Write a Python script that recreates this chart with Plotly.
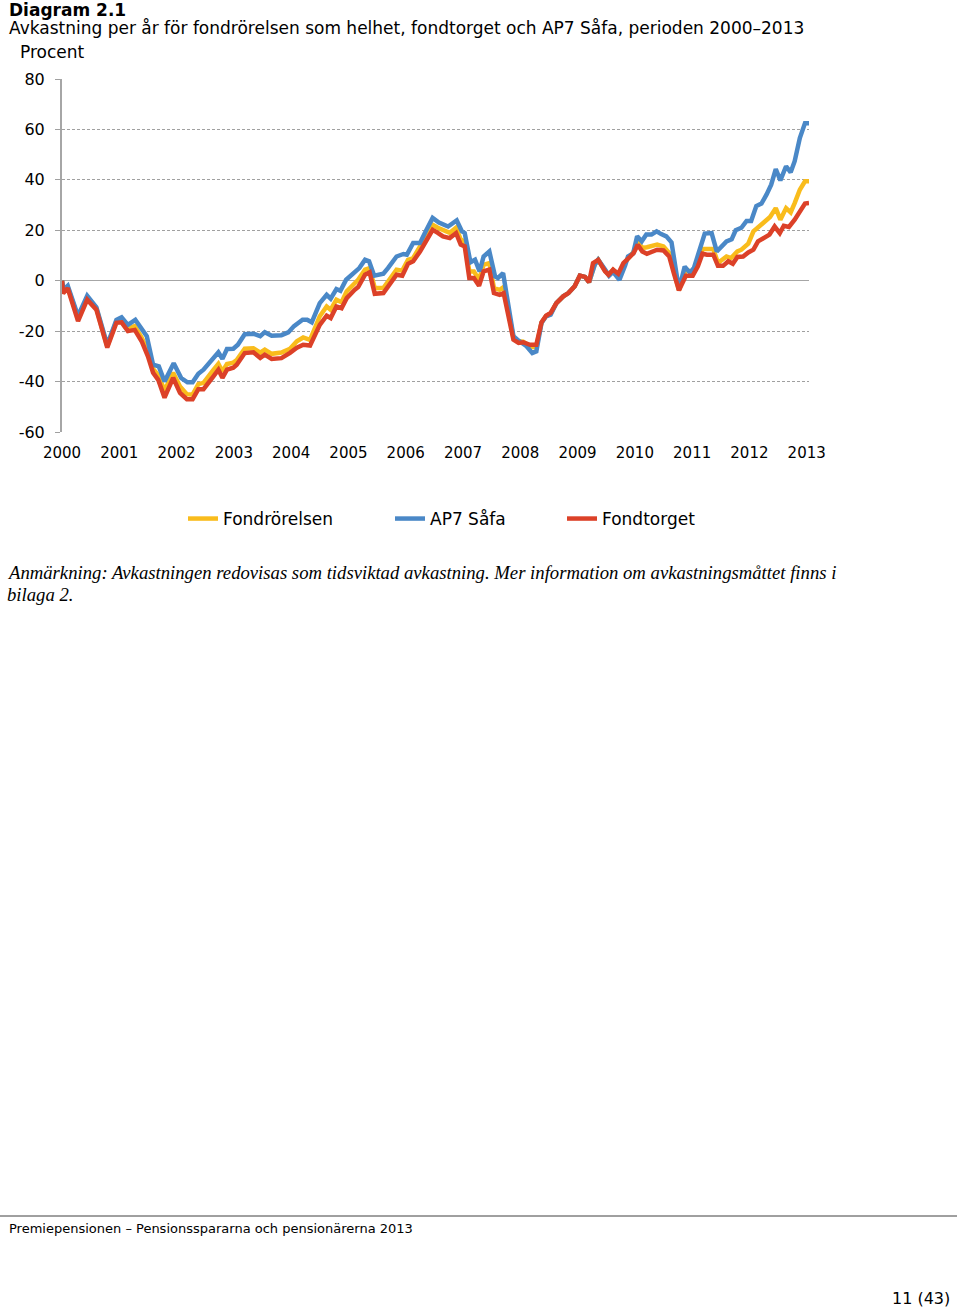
import plotly.graph_objects as go

# ---------------- data ----------------
series_names = ["Fondrörelsen", "AP7 Såfa", "Fondtorget"]

fondrorelsen_x = [2000.00, 2000.02, 2000.10, 2000.28, 2000.44, 2000.60, 2000.79, 2000.95, 2001.04, 2001.15,
                  2001.27, 2001.39, 2001.50, 2001.59, 2001.68, 2001.79, 2001.94, 2002.06, 2002.18, 2002.28,
                  2002.38, 2002.47, 2002.64, 2002.73, 2002.80, 2002.88, 2002.99, 2003.05, 2003.19, 2003.34,
                  2003.46, 2003.54, 2003.66, 2003.83, 2003.98, 2004.10, 2004.21, 2004.33, 2004.50, 2004.62,
                  2004.69, 2004.79, 2004.88, 2004.97, 2005.11, 2005.17, 2005.29, 2005.37, 2005.46, 2005.61,
                  2005.84, 2005.94, 2006.04, 2006.13, 2006.25, 2006.34, 2006.47, 2006.56, 2006.65, 2006.77,
                  2006.88, 2006.96, 2007.03, 2007.11, 2007.19, 2007.28, 2007.36, 2007.46, 2007.54, 2007.64,
                  2007.71, 2007.88, 2007.97, 2008.05, 2008.17, 2008.28, 2008.37, 2008.45, 2008.53, 2008.63,
                  2008.75, 2008.84, 2008.95, 2009.04, 2009.13, 2009.20, 2009.30, 2009.36, 2009.48, 2009.54,
                  2009.62, 2009.71, 2009.80, 2009.92, 2009.98, 2010.05, 2010.13, 2010.21, 2010.30, 2010.39,
                  2010.50, 2010.60, 2010.68, 2010.77, 2010.89, 2011.01, 2011.10, 2011.18, 2011.37, 2011.45,
                  2011.60, 2011.68, 2011.79, 2011.86, 2011.98, 2012.07, 2012.24, 2012.36, 2012.46, 2012.54,
                  2012.64, 2012.72, 2012.79, 2012.88, 2012.97, 2013.04]
fondrorelsen_y = [0, -4.5, -2.5, -15, -7, -11, -26, -16, -15.5, -19,
                  -18, -22.5, -28, -35, -37.5, -43.5, -36.5, -42, -45, -45.2,
                  -41, -40.5, -35.5, -33, -36, -33, -32.5, -31.5, -27, -26.8,
                  -28.5, -27.3, -29, -28.5, -27, -24, -22.5, -23.5, -14.1, -10.2,
                  -11.5, -7.5, -8.5, -4.2, -1, 0.4, 4.4, 5, -2.9, -2.9,
                  4.4, 4, 8.3, 9, 13.6, 16.9, 22.2, 21, 20, 19,
                  21, 16.3, 15.5, 3.7, 3.7, 0.4, 6.3, 7, -2.9, -3.6,
                  -2.5, -22.5, -24, -24.2, -26, -26.5, -16.6, -14, -13, -8.9,
                  -6.2, -4.9, -2.2, 2, 1.5, -0.6, 6.5, 8.3, 4, 2.3,
                  4.2, 2, 6.5, 9.8, 11.5, 15.5, 13, 13.3, 13.8, 14.3,
                  13.6, 11, 4, -3.8, 4.4, 3.3, 7, 12.6, 12.6, 7,
                  9.6, 9, 11.6, 12.3, 14.7, 19.6, 22.9, 25.3, 28.8, 24.2,
                  28.8, 27.1, 30.8, 36.1, 39.4, 39.4]

ap7_x = [2000.00, 2000.03, 2000.10, 2000.28, 2000.44, 2000.60, 2000.79, 2000.95, 2001.04, 2001.15,
         2001.28, 2001.39, 2001.48, 2001.59, 2001.69, 2001.79, 2001.95, 2002.08, 2002.19, 2002.28,
         2002.38, 2002.47, 2002.64, 2002.73, 2002.80, 2002.88, 2002.99, 2003.07, 2003.19, 2003.34,
         2003.46, 2003.54, 2003.66, 2003.83, 2003.95, 2004.05, 2004.20, 2004.28, 2004.36, 2004.50,
         2004.62, 2004.69, 2004.79, 2004.86, 2004.96, 2005.11, 2005.19, 2005.29, 2005.36, 2005.45,
         2005.61, 2005.69, 2005.84, 2005.96, 2006.02, 2006.13, 2006.25, 2006.35, 2006.47, 2006.58,
         2006.65, 2006.74, 2006.89, 2006.98, 2007.03, 2007.13, 2007.21, 2007.29, 2007.36, 2007.46,
         2007.56, 2007.61, 2007.70, 2007.88, 2007.95, 2008.02, 2008.11, 2008.21, 2008.28, 2008.37,
         2008.45, 2008.53, 2008.63, 2008.75, 2008.84, 2008.95, 2009.04, 2009.13, 2009.20, 2009.30,
         2009.36, 2009.48, 2009.55, 2009.62, 2009.73, 2009.83, 2009.88, 2009.97, 2010.04, 2010.12,
         2010.20, 2010.29, 2010.38, 2010.46, 2010.55, 2010.64, 2010.77, 2010.87, 2010.96, 2011.03,
         2011.13, 2011.22, 2011.34, 2011.43, 2011.60, 2011.69, 2011.76, 2011.86, 2011.95, 2012.03,
         2012.12, 2012.21, 2012.30, 2012.38, 2012.46, 2012.54, 2012.64, 2012.72, 2012.79, 2012.88,
         2012.97, 2013.04]
ap7_y = [0, -3.5, -2, -14, -6, -10.5, -25.4, -15.5, -14.5, -17.5,
         -15.5, -19.5, -22, -33.3, -34, -40, -32.7, -38.6, -40.3, -40.3,
         -36.9, -35.3, -30.7, -28.4, -31, -27.1, -27, -25.4, -21.2, -21,
         -22, -20.4, -21.8, -21.6, -20.5, -18, -15.5, -15.5, -16.5, -8.9,
         -5.6, -7.1, -3.3, -4, 0.4, 3.7, 5, 8.3, 7.7, 2,
         2.8, 5, 9.6, 10.6, 10.3, 15, 15, 19.6, 24.9, 23.1,
         22.2, 21.5, 23.9, 19.6, 18.9, 7.3, 8.3, 3.7, 9.6, 11.6,
         1.7, 1.1, 3, -22, -23.4, -24.4, -26, -28.7, -28, -16.8,
         -14.1, -13.5, -8.9, -6.2, -4.9, -2.2, 2, 1.5, -0.6, 6.3,
         8.3, 4.4, 2, 3.5, 0.3, 6, 9.6, 10.8, 17.6, 15.6,
         18.3, 18.3, 19.6, 18.5, 17.6, 15.2, -3.5, 5.6, 3.2, 5,
         13, 18.7, 18.9, 11.6, 15.6, 16.4, 20, 21, 23.7, 23.7,
         29.6, 30.6, 34.2, 38.1, 44.3, 39.8, 45.4, 43, 47.4, 56.6,
         62.5, 62.5]

fondtorget_x = [2000.00, 2000.02, 2000.10, 2000.28, 2000.44, 2000.60, 2000.79, 2000.95, 2001.04, 2001.15,
                2001.27, 2001.39, 2001.50, 2001.59, 2001.68, 2001.79, 2001.94, 2002.06, 2002.18, 2002.28,
                2002.38, 2002.47, 2002.64, 2002.73, 2002.80, 2002.88, 2002.99, 2003.05, 2003.19, 2003.34,
                2003.46, 2003.54, 2003.66, 2003.83, 2003.98, 2004.10, 2004.21, 2004.33, 2004.50, 2004.62,
                2004.69, 2004.79, 2004.88, 2004.97, 2005.11, 2005.17, 2005.29, 2005.37, 2005.46, 2005.61,
                2005.84, 2005.94, 2006.04, 2006.13, 2006.25, 2006.34, 2006.47, 2006.56, 2006.65, 2006.77,
                2006.88, 2006.96, 2007.03, 2007.11, 2007.19, 2007.28, 2007.36, 2007.46, 2007.54, 2007.64,
                2007.71, 2007.88, 2007.97, 2008.05, 2008.17, 2008.28, 2008.37, 2008.45, 2008.53, 2008.63,
                2008.75, 2008.84, 2008.95, 2009.04, 2009.13, 2009.20, 2009.27, 2009.36, 2009.48, 2009.54,
                2009.62, 2009.71, 2009.80, 2009.92, 2009.98, 2010.05, 2010.13, 2010.21, 2010.30, 2010.39,
                2010.50, 2010.60, 2010.68, 2010.77, 2010.89, 2011.01, 2011.10, 2011.18, 2011.26, 2011.37,
                2011.45, 2011.54, 2011.63, 2011.71, 2011.79, 2011.89, 2011.98, 2012.07, 2012.15, 2012.24,
                2012.35, 2012.44, 2012.53, 2012.60, 2012.69, 2012.79, 2012.88, 2012.97, 2013.04]
fondtorget_y = [0, -5, -3, -16, -7.5, -11.5, -26.5, -16.7, -16.5, -20,
                -19.5, -24, -30, -36.5, -39.3, -46.4, -38.5, -44.5, -47, -47,
                -43, -43, -38, -35.3, -38.5, -35.3, -34.5, -33.3, -28.7, -28.4,
                -30.6, -29.3, -31, -30.7, -28.6, -26.6, -25.4, -25.7, -17.5, -13.9,
                -14.8, -10.2, -10.9, -6.9, -3.6, -2.5, 2.4, 3.3, -5.2, -4.9,
                2.4, 2, 6.7, 7.7, 11.6, 15, 20.2, 19, 17.6, 16.9,
                18.9, 14.3, 13.6, 1.1, 1.1, -2, 3.7, 4.4, -4.9, -5.6,
                -4.9, -23.4, -24.7, -24.4, -25.4, -25.4, -16.5, -13.9, -12.8, -8.9,
                -6.2, -4.9, -2.2, 2, 1.5, -0.6, 7, 8.3, 3.7, 2.4,
                4.4, 2.8, 7, 9.6, 11, 14.3, 11.6, 10.7, 11.6, 12.3,
                12, 9.6, 3, -3.8, 2, 2, 5.7, 10.7, 10.3, 10.3,
                5.9, 5.9, 7.7, 6.7, 9.4, 9.6, 11.2, 12.3, 15.6, 16.9,
                18.3, 21.5, 18.9, 21.8, 21.3, 24.2, 27.5, 30.6, 30.8]

year_ticks = list(range(2000, 2014))
year_labels = [str(y) for y in year_ticks]
y_ticks = [80, 60, 40, 20, 0, -20, -40, -60]
y_labels = ["80", "60", "40", "20", "0", "-20", "-40", "-60"]

# ---------------- styling ----------------
W, H = 960, 1311
PL, PR, PT, PB = 62, 809, 79, 432   # plot area in pixels
colors = ["#F9BC1C", "#4A88C7", "#DC4128"]
FONT = "DejaVu Sans"


def fx(px):
    return (px - PL) / (PR - PL)


def fy(py):
    return (PB - py) / (PB - PT)


fig = go.Figure()
data = [(fondrorelsen_x, fondrorelsen_y), (ap7_x, ap7_y), (fondtorget_x, fondtorget_y)]
legend_ids = ["legend", "legend2", "legend3"]
for name, (xs, ys), col, lg in zip(series_names, data, colors, legend_ids):
    fig.add_trace(go.Scatter(x=xs, y=ys, mode="lines", name=name,
                             line=dict(color=col, width=4.5), legend=lg,
                             hoverinfo="skip"))

axis_gray = "#A6A6A6"
fig.update_layout(
    width=W, height=H,
    paper_bgcolor="white", plot_bgcolor="white",
    margin=dict(l=PL, r=W - PR, t=PT, b=H - PB, pad=0),
    font=dict(family=FONT, size=16, color="#000000"),
    xaxis=dict(range=[2000, 2013.04], tickvals=year_ticks, ticktext=year_labels,
               showgrid=False, zeroline=False, showline=False, ticks="",
               tickfont=dict(size=15), ticklabelstandoff=10),
    xaxis2=dict(overlaying="x", matches="x", anchor="free", position=60 / 140,
                tickvals=year_ticks, ticks="inside", ticklen=4, tickwidth=1,
                tickcolor=axis_gray, showticklabels=False, showgrid=False,
                zeroline=False, showline=False),
    yaxis=dict(range=[-60, 80], tickvals=y_ticks, ticktext=y_labels,
               showgrid=True, gridcolor="#A0A0A0", gridwidth=1, griddash="3px,2px",
               zeroline=True, zerolinecolor=axis_gray, zerolinewidth=1.5,
               showline=True, linecolor=axis_gray, linewidth=2,
               ticks="outside", ticklen=5, tickcolor="#A0A0A0",
               tickfont=dict(size=16), ticklabelstandoff=7),
    showlegend=True,
)

legend_text_px = [223, 430, 602]
for lg, tx in zip(legend_ids, legend_text_px):
    fig.update_layout({lg: dict(x=fx(tx - 40), xanchor="left", y=fy(519), yanchor="middle",
                                orientation="h", bgcolor="rgba(0,0,0,0)",
                                font=dict(family=FONT, size=17, color="#000000"),
                                itemwidth=30)})

annots = [
    dict(text="<b>Diagram 2.1</b>", x=fx(7), y=fy(10), size=17, fam=FONT),
    dict(text="Avkastning per år för fondrörelsen som helhet, fondtorget och AP7 Såfa, perioden 2000–2013",
         x=fx(7), y=fy(28), size=17, fam=FONT),
    dict(text="Procent", x=fx(18), y=fy(52), size=17, fam=FONT),
    dict(text="<i>Anmärkning: Avkastningen redovisas som tidsviktad avkastning. Mer information om avkastningsmåttet finns i</i>",
         x=fx(5), y=fy(572), size=18.7, fam="Liberation Serif"),
    dict(text="<i>bilaga 2.</i>", x=fx(5), y=fy(594), size=18.7, fam="Liberation Serif"),
    dict(text="Premiepensionen – Pensionsspararna och pensionärerna 2013", x=fx(7), y=fy(1228),
         size=13, fam=FONT),
]
for a in annots:
    fig.add_annotation(text=a["text"], x=a["x"], y=a["y"], xref="paper", yref="paper",
                       xanchor="left", yanchor="middle", showarrow=False,
                       font=dict(family=a["fam"], size=a["size"], color="#000000"))
fig.add_annotation(text="11 (43)", x=fx(952), y=fy(1298), xref="paper", yref="paper",
                   xanchor="right", yanchor="middle", showarrow=False,
                   font=dict(family=FONT, size=16, color="#000000"))

fig.add_shape(type="line", xref="paper", yref="paper", x0=fx(0), x1=fx(957), y0=fy(1216), y1=fy(1216),
              line=dict(color="#404040", width=1))

fig.write_html("out.html", config={"displayModeBar": False, "staticPlot": True},
               post_script="document.body.style.margin='0';document.body.style.overflow='hidden';")
